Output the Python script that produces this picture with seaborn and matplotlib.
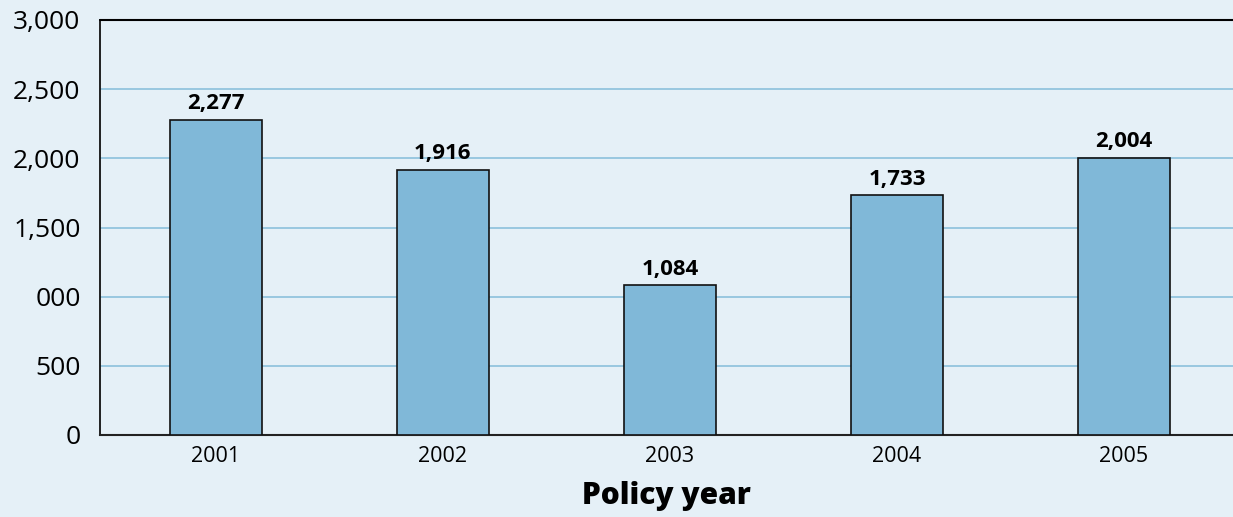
import matplotlib
matplotlib.use("Agg")
import matplotlib.pyplot as plt
import seaborn as sns
import pandas as pd

years = ["2001", "2002", "2003", "2004", "2005"]
values = [2277, 1916, 1084, 1733, 2004]
bar_labels = ["2,277", "1,916", "1,084", "1,733", "2,004"]
ytick_vals = [0, 500, 1000, 1500, 2000, 2500, 3000]
ytick_labels = ["0", "500", "000", "1,500", "2,000", "2,500", "3,000"]

bg = "#e5f0f7"
bar_color = "#80b8d8"
grid_color = "#8cc0dc"

sns.set_style("white")
plt.rcParams["font.family"] = ["Open Sans", "DejaVu Sans"]
plt.rcParams["text.color"] = "black"
plt.rcParams["xtick.color"] = "black"
plt.rcParams["ytick.color"] = "black"
plt.rcParams["axes.labelcolor"] = "black"

data = pd.DataFrame({"year": years, "value": values})

fig = plt.figure(figsize=(12.33, 5.17), dpi=100, facecolor=bg)
ax = fig.add_axes([100 / 1233, 1 - 435 / 517, 1 - 100 / 1233, 415 / 517])
ax.set_facecolor(bg)

sns.barplot(data=data, x="year", y="value", color=bar_color, width=0.405,
            edgecolor="#111111", linewidth=1.2, saturation=1, ax=ax, zorder=3)

for i, (v, lab) in enumerate(zip(values, bar_labels)):
    ax.text(i, v + 40, lab, ha="center", va="bottom", fontsize=16,
            fontweight="bold", color="black")

ax.set_ylim(0, 3000)
ax.set_xlim(-0.51, 4.48)
ax.set_yticks(ytick_vals)
ax.set_yticklabels(ytick_labels, fontsize=19)
ax.tick_params(axis="y", length=9, width=1.2, color="black", pad=5)
ax.tick_params(axis="x", length=0, labelsize=15.5, pad=8)

for y in [500, 1000, 1500, 2000, 2500]:
    ax.axhline(y, color=grid_color, linewidth=1.2, zorder=1)
ax.axhline(3000, color="black", linewidth=1.5, zorder=4, clip_on=False)

for s in ["top", "right"]:
    ax.spines[s].set_visible(False)
ax.spines["left"].set_linewidth(1.3)
ax.spines["left"].set_color("#111111")
ax.spines["bottom"].set_linewidth(1.5)
ax.spines["bottom"].set_color("#222222")

ax.set_ylabel("")
ax.set_xlabel("Policy year", fontsize=21.5, fontweight="heavy", labelpad=10)

fig.savefig("out.png", dpi=100, facecolor=bg)
